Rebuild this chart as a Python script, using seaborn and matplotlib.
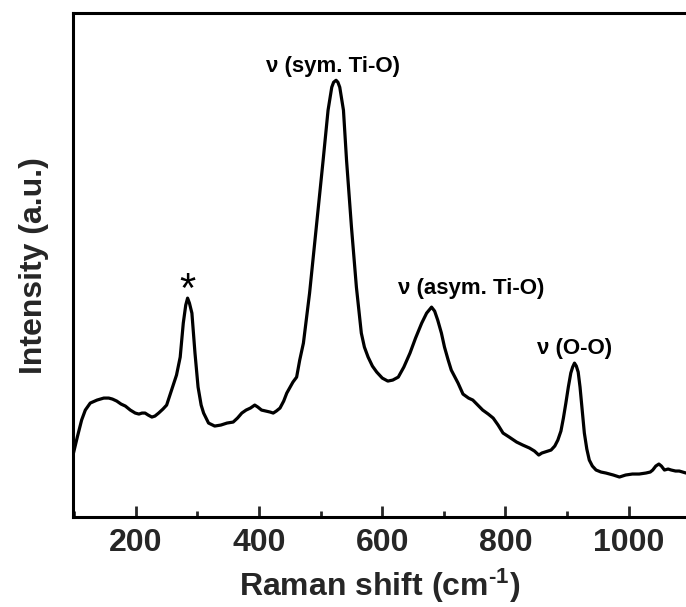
import matplotlib
matplotlib.use("Agg")
import matplotlib.pyplot as plt
import seaborn as sns
import pandas as pd
from matplotlib.ticker import MultipleLocator

# ---- data ----
raman_shift = [98, 105, 112, 118, 126, 137, 148, 156, 162, 169, 176, 183, 191, 199, 205,
               210, 215, 220, 226, 231, 237, 244, 250, 258, 266, 272, 277, 281, 284, 287,
               291, 296, 301, 306, 310, 318, 328, 338, 348, 358, 365, 372, 379, 386, 393,
               398, 404, 411, 418, 423, 428, 434, 440, 445, 455, 461, 466, 472, 482, 493,
               504, 512, 518, 521, 525, 528, 531, 537, 542, 550, 558, 566, 571, 577, 584,
               591, 600, 609, 617, 626, 635, 645, 654, 664, 672, 680, 685, 690, 696, 701,
               707, 712, 718, 723, 731, 740, 747, 755, 763, 772, 780, 788, 796, 806, 818,
               828, 839, 847, 854, 859, 864, 874, 880, 885, 890, 894, 898, 902, 906, 909,
               912, 915, 918, 921, 924, 928, 932, 936, 941, 947, 955, 963, 975, 985, 995,
               1006, 1017, 1028, 1035, 1039, 1044, 1049, 1053, 1058, 1064, 1069, 1076, 1082, 1093]
intensity = [62, 80, 97, 107, 114, 117, 119, 119, 118, 116, 113, 111, 107, 104, 103,
             104, 104, 102, 100, 101, 104, 108, 112, 127, 142, 160, 194, 212, 219, 214,
             204, 164, 130, 112, 104, 94, 91, 92, 94, 95, 99, 104, 107, 109, 112,
             110, 107, 106, 105, 104, 106, 109, 116, 124, 135, 140, 157, 174, 224, 290,
             357, 407, 430, 435, 437, 435, 430, 407, 357, 290, 230, 184, 170, 160, 151,
             145, 139, 136, 137, 140, 150, 164, 179, 194, 204, 210, 206, 197, 184, 170,
             157, 147, 140, 134, 123, 119, 117, 112, 107, 103, 99, 92, 84, 80, 75,
             72, 69, 66, 62, 64, 65, 67, 71, 77, 86, 99, 114, 130, 144, 150,
             154, 151, 145, 130, 110, 84, 68, 57, 51, 47, 45, 44, 42, 40, 42,
             43, 43, 44, 45, 47, 51, 53, 51, 47, 48, 47, 46, 46, 44]

peak_labels = ["*", "\u03bd (sym. Ti-O)", "\u03bd (asym. Ti-O)", "\u03bd (O-O)"]
peak_label_x = [284, 520, 744, 912]
peak_label_y = [226, 451, 229, 169]

df = pd.DataFrame({"Raman shift": raman_shift, "Intensity": intensity})

sns.set_style("ticks")
plt.rcParams["font.family"] = ["Liberation Sans", "DejaVu Sans"]
plt.rcParams["mathtext.fontset"] = "custom"
plt.rcParams["mathtext.rm"] = "Liberation Sans:bold"
plt.rcParams["mathtext.bf"] = "Liberation Sans:bold"
plt.rcParams["mathtext.default"] = "rm"

fig = plt.figure(figsize=(6.86, 6.07), dpi=100)
ax = fig.add_axes([73 / 686, 1 - 517 / 607, 1 - 73 / 686, (517 - 13.3) / 607])

sns.lineplot(data=df, x="Raman shift", y="Intensity", ax=ax, color="black",
             linewidth=2.3, sort=False)

ax.set_xlim(98, 1093)
ax.set_ylim(0, 504)

for s in ["left", "bottom", "top"]:
    ax.spines[s].set_linewidth(2.2)
    ax.spines[s].set_color("black")
ax.spines["right"].set_visible(False)

ax.set_yticks([])
ax.xaxis.set_major_locator(MultipleLocator(200))
ax.xaxis.set_minor_locator(MultipleLocator(100))
ax.tick_params(axis="x", which="major", direction="in", length=8, width=2,
               labelsize=23, pad=8, top=False)
ax.tick_params(axis="x", which="minor", direction="in", length=4, width=2, top=False)
for lab in ax.get_xticklabels():
    lab.set_fontweight("bold")

ax.set_xlabel("Raman shift (cm$^{\\text{-1}}$)", fontsize=23, fontweight="bold", labelpad=6)
ax.set_ylabel("Intensity (a.u.)", fontsize=23, fontweight="bold", labelpad=17)

for lbl, xv, yv in zip(peak_labels, peak_label_x, peak_label_y):
    if lbl == "*":
        ax.text(xv, yv, lbl, fontsize=30, ha="center", va="center", color="black")
    else:
        ax.text(xv, yv, lbl, fontsize=16, fontweight="bold", ha="center", va="center",
                color="black")

fig.savefig("out.png", dpi=100)
